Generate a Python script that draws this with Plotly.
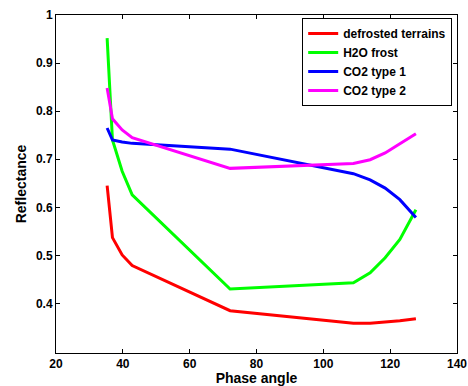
import plotly.graph_objects as go

phase = [35.3, 36.9, 39.8, 42.8, 72.1, 109.0, 114.0, 118.5, 122.9, 127.7]
defrosted = [0.645, 0.537, 0.501, 0.479, 0.385, 0.359, 0.359, 0.361, 0.364, 0.368]
h2o_frost = [0.952, 0.740, 0.675, 0.626, 0.430, 0.443, 0.464, 0.495, 0.533, 0.595]
co2_type1 = [0.765, 0.740, 0.736, 0.733, 0.721, 0.670, 0.657, 0.640, 0.616, 0.579]
co2_type2 = [0.848, 0.784, 0.761, 0.745, 0.681, 0.691, 0.699, 0.713, 0.732, 0.753]

series = [
    ("defrosted terrains", defrosted, "#ff0000"),
    ("H2O frost", h2o_frost, "#00ff00"),
    ("CO2 type 1", co2_type1, "#0000ff"),
    ("CO2 type 2", co2_type2, "#ff00ff"),
]

x_ticks = [20, 40, 60, 80, 100, 120, 140]
y_ticks = [0.4, 0.5, 0.6, 0.7, 0.8, 0.9, 1.0]
y_tick_labels = ["0.4", "0.5", "0.6", "0.7", "0.8", "0.9", "1"]

fig = go.Figure()
for name, vals, color in series:
    fig.add_trace(go.Scatter(x=phase, y=vals, mode="lines", name=name,
                             line=dict(color=color, width=3)))

FONT = "Liberation Sans, Arial, sans-serif"
axis_common = dict(showline=True, linecolor="black", linewidth=1, mirror="ticks",
                   ticks="inside", ticklen=4, tickcolor="black", showgrid=False,
                   zeroline=False, automargin=False, ticklabeloverflow="allow",
                   tickfont=dict(family=FONT, size=12, color="black", weight="bold"))

fig.update_layout(
    width=468, height=386,
    margin=dict(l=56, r=11, t=15, b=33),
    paper_bgcolor="white", plot_bgcolor="white",
    font=dict(family=FONT, color="black"),
    xaxis=dict(range=[20, 140], tickvals=x_ticks,
               title=dict(text="<b>Phase angle</b>", font=dict(size=14), standoff=2),
               **axis_common),
    yaxis=dict(range=[0.297, 1], tickvals=y_ticks, ticktext=y_tick_labels,
               title=dict(text="<b>Reflectance</b>", font=dict(size=14), standoff=6),
               **axis_common),
    legend=dict(x=0.988, y=0.991, xanchor="right", yanchor="top",
                bordercolor="black", borderwidth=1, bgcolor="white",
                font=dict(family=FONT, size=12, color="black", weight="bold"),
                itemwidth=30, tracegroupgap=0),
    showlegend=True,
)

fig.write_html("out.html",
               config={"displayModeBar": False},
               post_script="document.body.style.margin='0';document.body.style.overflow='hidden';")
